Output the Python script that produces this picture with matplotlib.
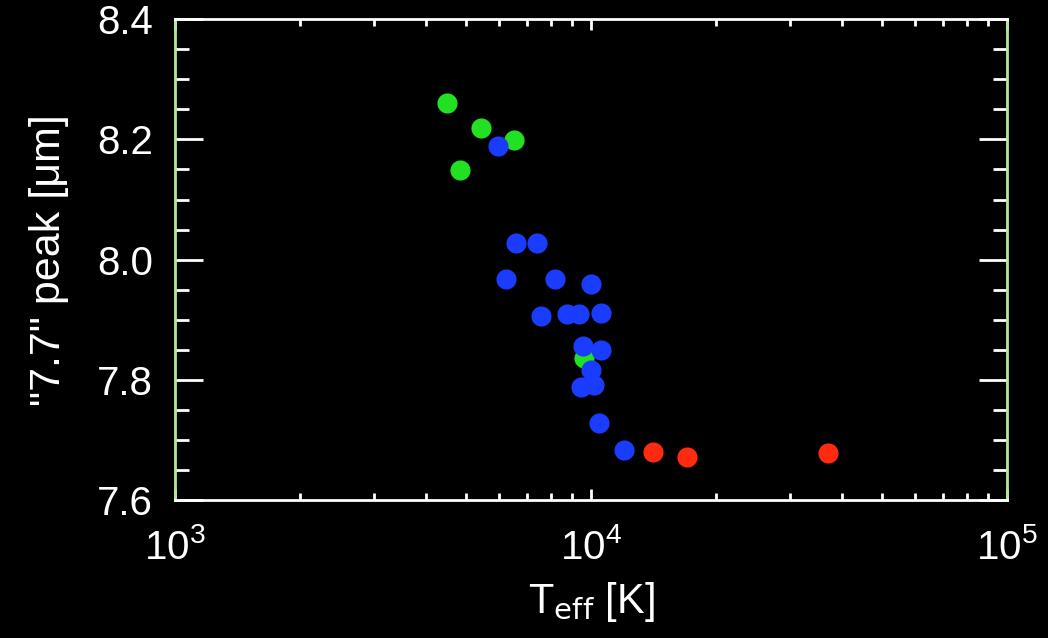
import numpy as np
import matplotlib.pyplot as plt
from matplotlib.ticker import LogLocator, MultipleLocator, FixedLocator

plt.rcParams['font.family'] = ['Liberation Sans', 'DejaVu Sans']

# green points
Tg = [4500, 5430, 6510, 4830, 9600]
Pg = [8.261, 8.219, 8.199, 8.149, 7.836]
# blue points
Tb = [5970, 6600, 7410, 6240, 8190, 10000, 7590, 8750, 9350, 10570,
      9570, 10570, 10000, 9460, 10160, 10450, 12030]
Pb = [8.189, 8.028, 8.028, 7.968, 7.968, 7.960, 7.907, 7.910, 7.910, 7.912,
      7.857, 7.849, 7.816, 7.788, 7.791, 7.729, 7.683]
# red points
Tr = [14100, 17000, 37200]
Pr = [7.680, 7.671, 7.678]

fig = plt.figure(figsize=(10.48, 6.38), dpi=100, facecolor='black')
ax = fig.add_axes([0.167, 0.216, 0.794, 0.754])
ax.set_facecolor('black')

ax.plot(Tg, Pg, 'o', color='#22e022', ms=14.5, mew=0)
ax.plot(Tb, Pb, 'o', color='#1a3cff', ms=14.5, mew=0)
ax.plot(Tr, Pr, 'o', color='#ff2a10', ms=14.5, mew=0)

ax.set_xscale('log')
ax.set_xlim(1e3, 1e5)
ax.set_ylim(7.6, 8.4)
ax.yaxis.set_major_locator(FixedLocator([7.6, 7.8, 8.0, 8.2, 8.4]))
ax.yaxis.set_major_formatter(plt.FuncFormatter(lambda v, p: '%.1f' % v))
ax.yaxis.set_minor_locator(MultipleLocator(0.05))
ax.xaxis.set_minor_locator(LogLocator(base=10, subs=np.arange(2, 10), numticks=20))

for s in ['top', 'bottom']:
    ax.spines[s].set_color('white')
for s in ['left', 'right']:
    ax.spines[s].set_color('#b0e8a0')
for s in ax.spines.values():
    s.set_linewidth(2)

ax.tick_params(axis='both', which='both', direction='in', colors='white',
               top=True, right=True, width=2, labelsize=29)
ax.tick_params(axis='y', which='major', length=20, pad=16)
ax.tick_params(axis='y', which='minor', length=10)
ax.tick_params(axis='x', which='major', length=8, pad=20)
ax.tick_params(axis='x', which='minor', length=5)

ax.set_xlabel(r'T$_{\rm eff}$ [K]', color='white', fontsize=30)
ax.set_ylabel('"7.7" peak [μm]', color='white', fontsize=31)
ax.xaxis.set_label_coords(0.5, -0.165)
ax.yaxis.set_label_coords(-0.128, 0.5)

fig.savefig('out.png', dpi=100, facecolor='black')
